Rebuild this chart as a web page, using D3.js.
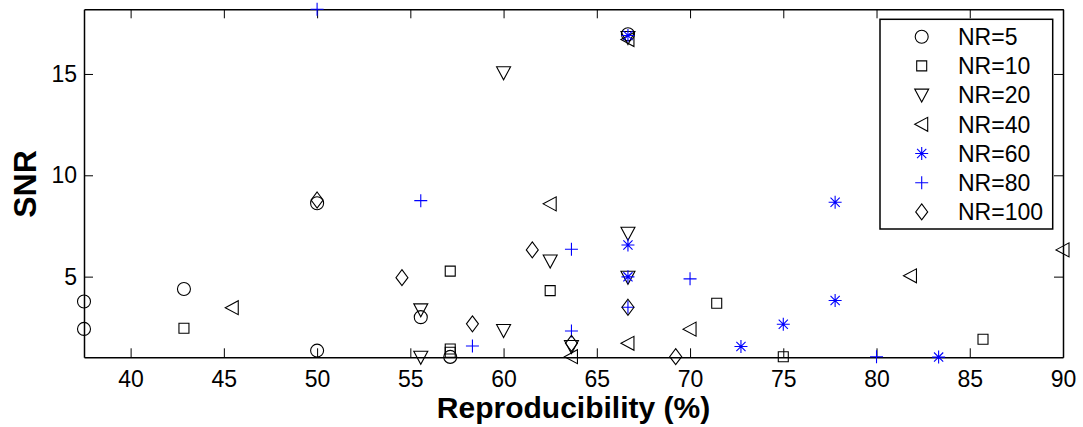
<!DOCTYPE html>
<html>
<head>
<meta charset="utf-8">
<script src="https://cdn.jsdelivr.net/npm/d3@7"></script>
<style>
  body { margin: 0; background: #fff; }
  text { font-family: "Liberation Sans", Arial, sans-serif; }
</style>
</head>
<body>
<div id="chart"></div>
<script>
// values
var nr5x   = [37.5, 37.5, 42.86, 50, 50, 55.56, 57.14, 66.67];
var nr5y   = [2.42, 3.77, 4.39, 1.35, 8.62, 3.0, 1.04, 16.96];
var nr10x  = [42.86, 57.14, 57.14, 57.14, 62.5, 71.43, 75, 85.71];
var nr10y  = [2.45, 5.27, 1.43, 1.27, 4.31, 3.69, 1.05, 1.91];
var nr20x  = [55.56, 55.56, 60, 60, 62.5, 63.64, 66.67, 66.67, 66.67];
var nr20y  = [3.36, 1.02, 15.06, 2.34, 5.77, 1.55, 7.14, 4.97, 16.8];
var nr40x  = [45.45, 62.5, 63.64, 66.67, 66.67, 70, 81.82, 90];
var nr40y  = [3.47, 8.59, 1.05, 1.71, 16.7, 2.41, 5.04, 6.32];
var nr60x  = [66.67, 66.67, 66.67, 72.73, 75, 77.78, 77.78, 83.33];
var nr60y  = [16.9, 6.56, 4.99, 1.55, 2.65, 3.82, 8.67, 1.03];
var nr80x  = [50, 55.56, 58.33, 63.64, 63.64, 66.67, 70, 80];
var nr80y  = [18.19, 8.75, 1.58, 6.35, 2.32, 3.49, 4.89, 1.05];
var nr100x = [50, 54.55, 58.33, 61.54, 63.64, 66.67, 69.23];
var nr100y = [8.78, 4.95, 2.67, 6.32, 1.71, 3.49, 1.05];

var labels = ["NR=5", "NR=10", "NR=20", "NR=40", "NR=60", "NR=80", "NR=100"];
var xTicks = [40, 45, 50, 55, 60, 65, 70, 75, 80, 85, 90];
var yTicks = [5, 10, 15];

var series = [
  {name: labels[0], xs: nr5x,   ys: nr5y,   shape: "circle",   color: "#000"},
  {name: labels[1], xs: nr10x,  ys: nr10y,  shape: "square",   color: "#000"},
  {name: labels[2], xs: nr20x,  ys: nr20y,  shape: "tridown",  color: "#000"},
  {name: labels[3], xs: nr40x,  ys: nr40y,  shape: "trileft",  color: "#000"},
  {name: labels[4], xs: nr60x,  ys: nr60y,  shape: "asterisk", color: "#0000ff"},
  {name: labels[5], xs: nr80x,  ys: nr80y,  shape: "plus",     color: "#0000ff"},
  {name: labels[6], xs: nr100x, ys: nr100y, shape: "diamond",  color: "#000"}
];

var W = 1083, H = 427;
var margin = {top: 9.3, right: 20, bottom: 69.7, left: 84};
var width = 1063 - margin.left, height = 357.3 - margin.top;

var allX = [], allY = [];
series.forEach(function(s) { allX = allX.concat(s.xs); allY = allY.concat(s.ys); });

var x = d3.scaleLinear().domain(d3.extent(allX)).range([0, width]);
var y = d3.scaleLinear().domain(d3.extent(allY)).range([height, 0]);

var svg = d3.select("#chart").append("svg")
  .attr("width", W).attr("height", H);
var g = svg.append("g")
  .attr("transform", "translate(" + margin.left + "," + margin.top + ")");

// marker path, centred at 0,0
function markerPath(shape) {
  switch (shape) {
    case "circle":  return "M6.5,0A6.5,6.5 0 1,1 -6.5,0A6.5,6.5 0 1,1 6.5,0Z";
    case "square":  return "M-5,-5H5V5H-5Z";
    case "tridown": return "M-7,-6H7L0,7Z";
    case "trileft": return "M6,-7V7L-7,0Z";
    case "diamond": return "M0,-8L6,0L0,8L-6,0Z";
    case "plus":    return "M-6.5,0H6.5M0,-6.5V6.5";
    case "asterisk": return "M-6.5,0H6.5M0,-6.5V6.5M-4.6,-4.6L4.6,4.6M-4.6,4.6L4.6,-4.6";
  }
}

// axes box with inward ticks on all sides
var xb = g.append("g").attr("transform", "translate(0," + height + ")")
  .call(d3.axisBottom(x).tickValues(xTicks).tickSizeInner(-9).tickSizeOuter(0).tickPadding(13));
var xt = g.append("g")
  .call(d3.axisTop(x).tickValues(xTicks).tickSizeInner(-9).tickSizeOuter(0).tickFormat(""));
var yl = g.append("g")
  .call(d3.axisLeft(y).tickValues(yTicks).tickSizeInner(-9).tickSizeOuter(0).tickPadding(7));
var yr = g.append("g").attr("transform", "translate(" + width + ",0)")
  .call(d3.axisRight(y).tickValues(yTicks).tickSizeInner(-9).tickSizeOuter(0).tickFormat(""));

[xb, xt, yl, yr].forEach(function(a) {
  a.select(".domain").attr("stroke", "#000").attr("stroke-width", 1.5);
  a.selectAll(".tick line").attr("stroke", "#000").attr("stroke-width", 1);
  a.selectAll("text").attr("font-size", 23).attr("fill", "#000")
    .style("font-family", "Liberation Sans, Arial, sans-serif");
});

// points
series.forEach(function(s) {
  var pts = s.xs.map(function(v, i) { return [v, s.ys[i]]; });
  g.append("g").selectAll("path").data(pts).enter().append("path")
    .attr("d", markerPath(s.shape))
    .attr("transform", function(d) { return "translate(" + x(d[0]) + "," + y(d[1]) + ")"; })
    .attr("fill", "none")
    .attr("stroke", s.color)
    .attr("stroke-width", 1.1);
});

// legend
var lg = svg.append("g").attr("transform", "translate(880,19.3)");
lg.append("rect").attr("width", 172.7).attr("height", 209.7)
  .attr("fill", "#fff").attr("stroke", "#000").attr("stroke-width", 1.5);
series.forEach(function(s, i) {
  var cy = 17.4 + i * 29.2;
  lg.append("path").attr("d", markerPath(s.shape))
    .attr("transform", "translate(41.7," + cy + ")")
    .attr("fill", "none").attr("stroke", s.color).attr("stroke-width", 1.1);
  lg.append("text").attr("x", 78).attr("y", cy + 8.3)
    .attr("font-size", 23).attr("fill", "#000").text(s.name);
});

// axis titles
svg.append("text")
  .attr("x", margin.left + width / 2).attr("y", 418)
  .attr("text-anchor", "middle").attr("font-size", 30).attr("font-weight", "bold")
  .text("Reproducibility (%)");
svg.append("text")
  .attr("transform", "translate(36,184) rotate(-90)")
  .attr("text-anchor", "middle").attr("font-size", 32).attr("font-weight", "bold")
  .text("SNR");
</script>
</body>
</html>
